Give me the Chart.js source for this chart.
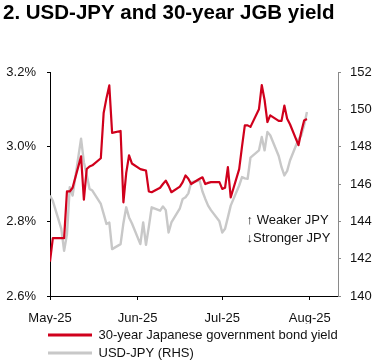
<!DOCTYPE html>
<html>
<head>
<meta charset="utf-8">
<script src="https://cdn.jsdelivr.net/npm/chart.js@4"></script>
<style>
  html, body { margin: 0; padding: 0; background: #fff; }
  #wrap { width: 377px; height: 364px; }
</style>
</head>
<body>
<div id="wrap"><canvas id="chart" width="377" height="364"></canvas></div>
<script>
const FONT = "'Liberation Sans', Arial, sans-serif";

// trading days shown
const dates = [
	'2025-05-01','2025-05-02','2025-05-05','2025-05-06','2025-05-07','2025-05-08','2025-05-09',
	'2025-05-12','2025-05-13','2025-05-14','2025-05-15','2025-05-16','2025-05-19','2025-05-20',
	'2025-05-21','2025-05-22','2025-05-23','2025-05-26','2025-05-27','2025-05-28','2025-05-29','2025-05-30',
	'2025-06-02','2025-06-03','2025-06-04','2025-06-05','2025-06-06','2025-06-09','2025-06-10',
	'2025-06-11','2025-06-12','2025-06-13','2025-06-16','2025-06-17','2025-06-18','2025-06-19',
	'2025-06-20','2025-06-23','2025-06-24','2025-06-25','2025-06-26','2025-06-27','2025-06-30',
	'2025-07-01','2025-07-02','2025-07-03','2025-07-04','2025-07-07','2025-07-08','2025-07-09',
	'2025-07-10','2025-07-11','2025-07-14','2025-07-15','2025-07-16','2025-07-17','2025-07-18',
	'2025-07-21','2025-07-22','2025-07-23','2025-07-24','2025-07-25','2025-07-28','2025-07-29',
	'2025-07-30','2025-07-31'
];

// 30-year JGB yield, %
const jgb30 = [
	2.692, 2.755, 2.755, 2.755, 2.880, 2.880, 2.890,
	2.974, 2.858, 2.940, 2.947, 2.950, 2.969, 3.090,
	3.130, 3.164, 3.037, 3.042, 2.851, 2.930, 2.977, 2.955,
	2.940, 2.938, 2.936, 2.880, 2.878, 2.890, 2.900,
	2.909, 2.895, 2.878, 2.893, 2.905, 2.923, 2.914,
	2.900, 2.914, 2.918, 2.900, 2.903, 2.905, 2.905,
	2.887, 2.890, 2.945, 2.864, 2.940, 3.000, 3.057,
	3.057, 3.053, 3.100, 3.165, 3.125, 3.066, 3.084,
	3.069, 3.069, 3.110, 3.075, 3.060, 3.004, 3.040,
	3.070, 3.074
];

// USD-JPY (RHS)
const usdjpy = [
	145.38, 145.10, 143.60, 142.42, 143.30, 145.83, 145.38,
	148.43, 147.17, 146.50, 145.74, 145.65, 144.93, 144.40,
	143.86, 143.94, 142.51, 142.78, 143.90, 144.75, 144.21, 143.90,
	142.78, 143.94, 142.74, 143.70, 144.75, 144.57, 144.80,
	144.60, 143.40, 143.94, 144.70, 145.20, 145.29, 145.50,
	146.10, 146.19, 145.60, 145.20, 144.84, 144.60, 144.00,
	143.40, 143.60, 144.21, 144.84, 145.92, 146.37, 146.30,
	146.28, 147.41, 147.80, 148.52, 147.80, 148.79, 148.61,
	147.50, 146.90, 146.46, 146.70, 147.26, 148.40, 148.60,
	149.15, 149.86
];

const monthTicks = ['2025-05-01', '2025-06-01', '2025-07-01', '2025-08-01'];
const monthLabels = ['May-25', 'Jun-25', 'Jul-25', 'Aug-25'];
const axisEnd = '2025-08-11';

const leftTicks = [2.6, 2.8, 3.0, 3.2];
const rightTicks = [140, 142, 144, 146, 148, 150, 152];

const noteLines = ['\u2191 Weaker JPY', '\u2193Stronger JPY'];

// days since May 1
const dayOf = (s) => (Date.parse(s) - Date.parse(dates[0])) / 86400000;

const tickOffsets = monthTicks.map(dayOf);

const noteText = {
	id: 'noteText',
	afterDatasetsDraw(chart) {
		const {ctx, scales} = chart;
		const x = scales.x.getPixelForValue(dayOf('2025-07-09') + 0.6);
		const y1 = scales.y1.getPixelForValue(144.03);
		const y2 = scales.y1.getPixelForValue(143.07);
		ctx.save();
		ctx.font = '13px ' + FONT;
		ctx.fillStyle = '#111';
		ctx.textBaseline = 'middle';
		ctx.textAlign = 'left';
		ctx.fillText(noteLines[0], x, y1);
		ctx.fillText(noteLines[1], x, y2);
		ctx.restore();
	}
};

// nudge legend so the samples sit under the plot's left edge, and give it room on the right
const legendShift = {
	id: 'legendShift',
	afterLayout(chart) {
		chart.legend.left -= 7;
		chart.legend.right = chart.width;
	}
};

new Chart(document.getElementById('chart'), {
	type: 'line',
	data: {
		datasets: [{
			label: '30-year Japanese government bond yield',
			data: dates.map((d, i) => ({x: dayOf(d), y: jgb30[i]})),
			borderColor: '#d0001c',
			backgroundColor: '#d0001c',
			borderWidth: 2.2,
			yAxisID: 'y',
		}, {
			label: 'USD-JPY (RHS)',
			data: dates.map((d, i) => ({x: dayOf(d), y: usdjpy[i]})),
			borderColor: '#c8c8c8',
			backgroundColor: '#c8c8c8',
			borderWidth: 2.4,
			yAxisID: 'y1',
		}]
	},
	options: {
		responsive: false,
		animation: false,
		events: [],
		elements: {
			point: {radius: 0},
			line: {tension: 0, borderJoinStyle: 'round'},
		},
		layout: {padding: {left: 3, right: 0, top: 0, bottom: -5.5}},
		plugins: {
			tooltip: {enabled: false},
			title: {
				display: true,
				text: '2. USD-JPY and 30-year JGB yield',
				align: 'start',
				color: '#000',
				font: {family: FONT, size: 20.5, weight: 'bold', lineHeight: 1.2},
				padding: {top: 1, bottom: 46.4},
			},
			legend: {
				display: true,
				position: 'bottom',
				align: 'start',
				fullSize: false,
				labels: {
					color: '#111',
					font: {family: FONT, size: 13},
					usePointStyle: true,
					pointStyle: 'line',
					pointStyleWidth: 44,
					padding: 5,
					generateLabels: (chart) => Chart.defaults.plugins.legend.labels
						.generateLabels(chart)
						.map((item) => ({...item, lineWidth: 3})),
				},
			},
		},
		scales: {
			x: {
				type: 'linear',
				min: 0,
				max: dayOf(axisEnd),
				afterBuildTicks: (scale) => {
					scale.ticks = tickOffsets.map((v) => ({value: v}));
				},
				afterFit: (scale) => { scale.height = 27.5; },
				ticks: {
					color: '#111',
					font: {family: FONT, size: 13},
					padding: 11,
					maxRotation: 0,
					autoSkip: false,
					callback: (v) => monthLabels[tickOffsets.indexOf(v)],
				},
				grid: {display: true, drawOnChartArea: false, drawTicks: true, tickLength: 4, color: '#000'},
				border: {display: true, color: '#000', width: 1},
			},
			y: {
				position: 'left',
				min: 2.6,
				max: 3.2,
				afterBuildTicks: (scale) => {
					scale.ticks = leftTicks.map((v) => ({value: v}));
				},
				afterFit: (scale) => { scale.width = 47; },
				ticks: {
					color: '#111',
					font: {family: FONT, size: 13},
					padding: 11,
					callback: (v) => v.toFixed(1) + '%',
				},
				grid: {display: true, drawOnChartArea: false, drawTicks: true, tickLength: 3, color: '#000'},
				border: {display: true, color: '#000', width: 1},
			},
			y1: {
				position: 'right',
				min: 140,
				max: 152,
				afterBuildTicks: (scale) => {
					scale.ticks = rightTicks.map((v) => ({value: v}));
				},
				afterFit: (scale) => { scale.width = 39; },
				ticks: {
					color: '#111',
					font: {family: FONT, size: 13},
					padding: 9,
				},
				grid: {display: true, drawOnChartArea: false, drawTicks: true, tickLength: 3, color: '#8a8a8a'},
				border: {display: true, color: '#8a8a8a', width: 1},
			},
		},
	},
	plugins: [noteText, legendShift],
});
</script>
</body>
</html>
